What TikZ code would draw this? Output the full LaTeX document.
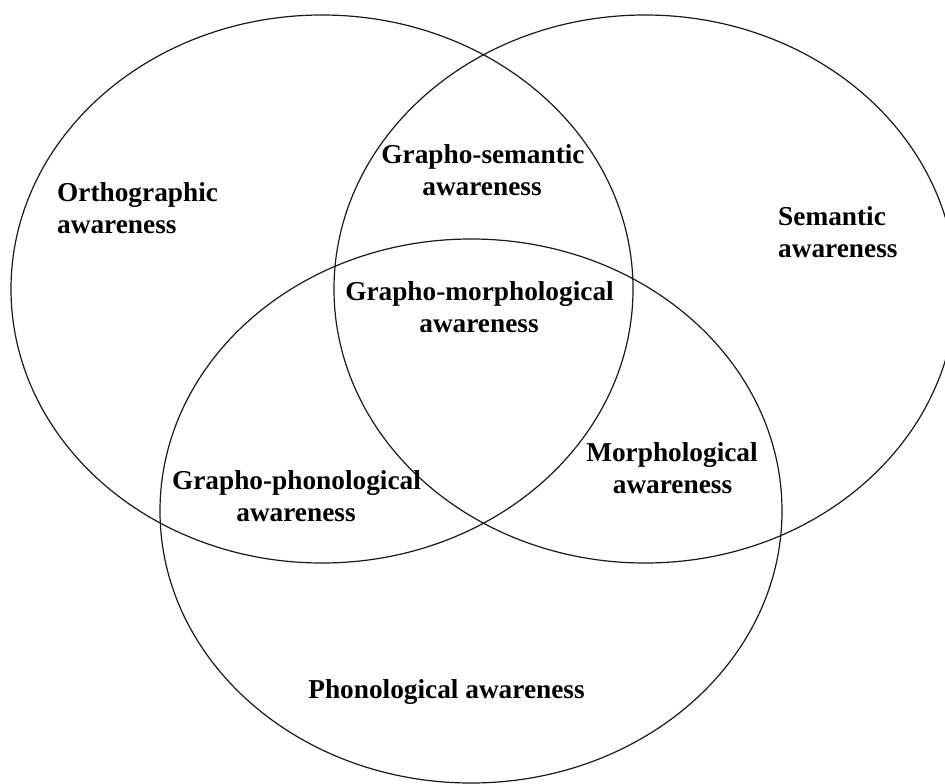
\documentclass[tikz,border=0pt]{standalone}
\usepackage{fontspec}
\setmainfont{Liberation Serif}
\begin{document}
\begin{tikzpicture}[x=1pt,y=-1pt,
  ring/.style={draw=black!90, line width=1.2pt},
  lbl/.style={font=\fontsize{27.3}{32}\selectfont\bfseries, inner sep=0pt, text=black}]
\useasboundingbox (0,0) rectangle (945,784);
\clip (0,0) rectangle (945,784);
% three ellipses
\draw[ring] (322,289) ellipse [x radius=311, y radius=274];
\draw[ring] (645,289) ellipse [x radius=311, y radius=274];
\draw[ring] (471,511) ellipse [x radius=311, y radius=272];
% labels
\node[lbl, anchor=base west] (ortho1) at (57,201) {Orthographic};
\node[lbl, anchor=base west] (ortho2) at (57,233) {awareness};
\node[lbl, anchor=base west] (sem1) at (778,225) {Semantic};
\node[lbl, anchor=base west] (sem2) at (778,257) {awareness};
\node[lbl, anchor=base] (gs1) at (483,163) {Grapho-semantic};
\node[lbl, anchor=base] (gs2) at (482,195) {awareness};
\node[lbl, anchor=base] (gm1) at (479.5,300) {Grapho-morphological};
\node[lbl, anchor=base] (gm2) at (479,332) {awareness};
\node[lbl, anchor=base] (gp1) at (296.5,489) {Grapho-phonological};
\node[lbl, anchor=base] (gp2) at (296,521) {awareness};
\node[lbl, anchor=base] (mo1) at (672,461) {Morphological};
\node[lbl, anchor=base] (mo2) at (672.5,493) {awareness};
\node[lbl, anchor=base] (ph) at (446.5,698) {Phonological awareness};
\end{tikzpicture}
\end{document}
